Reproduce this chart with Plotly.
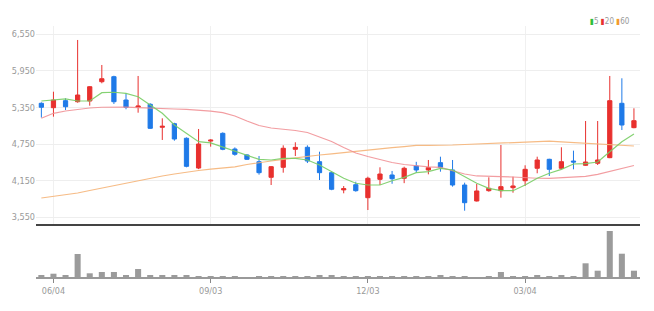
import plotly.graph_objects as go
import pandas as pd

# ---------------- data (weekly candles) ----------------
dates = pd.date_range("2022-05-28", periods=50, freq="7D")

open_ = [5419, 5347, 5462, 5445, 5457, 5773, 5855, 5473, 5354, 5403,
         5026, 5085, 4846, 4358, 4800, 4927, 4670, 4572, 4462, 4206,
         4370, 4665, 4698, 4462, 4282, 4000, 4085, 3872, 4173, 4244,
         4190, 4392, 4326, 4446, 4326, 4080, 3818, 3987, 3987, 4036,
         4150, 4354, 4501, 4354, 4473, 4403, 4436, 4528, 5419, 5020]
high = [5435, 5609, 5501, 6457, 5700, 6047, 5871, 5583, 5867, 5420,
        5173, 5100, 4860, 4998, 4829, 4943, 4697, 4585, 4555, 4390,
        4730, 4780, 4730, 4626, 4300, 4063, 4134, 4216, 4370, 4310,
        4380, 4460, 4490, 4544, 4490, 4118, 4097, 4206, 4736, 4216,
        4403, 4544, 4510, 4698, 4643, 5129, 5129, 5867, 5829, 5337]
low = [5185, 5200, 5309, 5429, 5380, 5747, 5408, 5321, 5265, 5000,
       4818, 4806, 4370, 4340, 4708, 4650, 4560, 4490, 4250, 4080,
       4282, 4555, 4440, 4162, 3995, 3944, 3970, 3670, 4080, 4100,
       4110, 4280, 4255, 4298, 4053, 3659, 3810, 3970, 3872, 3954,
       4064, 4272, 4228, 4340, 4337, 4395, 4408, 4520, 4981, 5010]
close = [5354, 5473, 5363, 5555, 5691, 5822, 5445, 5354, 5375, 5009,
         5042, 4834, 4386, 4752, 4815, 4665, 4583, 4501, 4282, 4380,
         4682, 4697, 4473, 4282, 4010, 4020, 3987, 4190, 4260, 4183,
         4354, 4326, 4364, 4370, 4080, 3790, 3982, 4026, 4053, 4064,
         4337, 4490, 4337, 4462, 4457, 4457, 4490, 5462, 5063, 5134]

ma5 = [5457, 5473, 5490, 5457, 5457, 5593, 5600, 5583, 5527, 5391,
       5255, 5063, 4927, 4790, 4770, 4700, 4640, 4572, 4501, 4490,
       4517, 4517, 4490, 4408, 4298, 4190, 4108, 4080, 4080, 4150,
       4206, 4282, 4298, 4353, 4326, 4216, 4108, 4026, 3987, 3987,
       4080, 4190, 4272, 4337, 4424, 4430, 4457, 4626, 4790, 4916]
ma20 = [5173, 5255, 5293, 5321, 5342, 5354, 5358, 5358, 5347, 5337,
        5330, 5326, 5321, 5309, 5290, 5265, 5211, 5129, 5055, 5014,
        4998, 4973, 4941, 4872, 4793, 4695, 4605, 4547, 4498, 4449,
        4416, 4391, 4378, 4368, 4309, 4260, 4228, 4216, 4216, 4211,
        4198, 4191, 4190, 4198, 4206, 4223, 4255, 4301, 4354, 4400]
ma60 = [3867, 3891, 3916, 3949, 3990, 4031, 4072, 4113, 4154, 4195,
        4227, 4260, 4293, 4318, 4339, 4359, 4378, 4416, 4449, 4473,
        4501, 4527, 4550, 4572, 4591, 4613, 4632, 4652, 4670, 4691,
        4709, 4731, 4731, 4731, 4736, 4744, 4752, 4762, 4772, 4781,
        4791, 4800, 4798, 4788, 4775, 4765, 4752, 4742, 4732, 4719]

volume = [20000, 33000, 20000, 230000, 37000, 50000, 50000, 20000, 80000, 20000,
          20000, 13000, 13000, 10000, 10000, 10000, 10000, 0, 10000, 10000,
          10000, 10000, 10000, 18000, 18000, 10000, 10000, 10000, 10000, 10000,
          10000, 10000, 10000, 18000, 10000, 10000, 0, 10000, 50000, 10000,
          10000, 15000, 10000, 15000, 10000, 137000, 63000, 460000, 233000, 63000]

price_ticks = [3550, 4150, 4750, 5350, 5950, 6550]
date_ticks = ["2022-06-04", "2022-09-03", "2022-12-03", "2023-03-04"]
date_tick_labels = ["06/04", "09/03", "12/03", "03/04"]

# ---------------- styles ----------------
RED = "#e8302e"
BLUE = "#1f7ae8"
C_MA5 = "rgba(120,205,100,0.9)"
C_MA20 = "rgba(240,140,145,0.85)"
C_MA60 = "rgba(245,180,120,0.9)"
FONT = "Liberation Sans Narrow, DejaVu Sans Condensed, Arial Narrow, sans-serif"

fig = go.Figure()

fig.add_trace(go.Candlestick(
    x=dates, open=open_, high=high, low=low, close=close,
    increasing=dict(line=dict(color=RED, width=1), fillcolor=RED),
    decreasing=dict(line=dict(color=BLUE, width=1), fillcolor=BLUE),
    whiskerwidth=0, showlegend=False, hoverinfo="skip",
    xaxis="x", yaxis="y"))

for vals, col in [(ma60, C_MA60), (ma20, C_MA20), (ma5, C_MA5)]:
    fig.add_trace(go.Scatter(x=dates, y=vals, mode="lines",
                             line=dict(color=col, width=1.2),
                             showlegend=False, hoverinfo="skip",
                             xaxis="x", yaxis="y"))

fig.add_trace(go.Bar(x=dates, y=volume, marker=dict(color="#9b9b9b", line=dict(width=0)),
                     width=3.5 * 86400000, showlegend=False, hoverinfo="skip",
                     xaxis="x2", yaxis="y2"))

xrange = ["2022-05-24 21:36", "2023-05-09 12:00"]

fig.update_layout(
    width=654, height=311,
    margin=dict(l=33, r=14, t=26, b=34),
    paper_bgcolor="white", plot_bgcolor="white",
    boxgap=0.5,
    font=dict(family=FONT, size=9, color="#999999"),
    xaxis=dict(domain=[0, 1], range=xrange, type="date",
               tickvals=date_ticks, showticklabels=False,
               showgrid=True, gridcolor="#f0f0f0", gridwidth=1,
               showline=True, linecolor="#444444", linewidth=2,
               rangeslider=dict(visible=False), anchor="y", zeroline=False),
    yaxis=dict(domain=[0.2112, 1], range=[3441, 6686],
               tickvals=price_ticks, tickformat=",d",
               showgrid=True, gridcolor="#eeeeee", gridwidth=1,
               zeroline=False, showline=False, ticks="",
               tickfont=dict(size=9, color="#999999"), anchor="x"),
    xaxis2=dict(domain=[0, 1], range=xrange, type="date", matches="x",
                tickvals=date_ticks, ticktext=date_tick_labels,
                ticks="outside", ticklen=4, tickcolor="#888888",
                showgrid=False, showline=True, linecolor="#999999", linewidth=2,
                tickfont=dict(size=9, color="#999999"), anchor="y2", zeroline=False),
    yaxis2=dict(domain=[0, 0.1952], range=[0, 490000],
                showticklabels=False, showgrid=False, zeroline=False,
                showline=False, anchor="x2"),
    annotations=[dict(
        xref="paper", yref="paper", x=1, y=1, xanchor="right", yanchor="middle",
        xshift=-8, yshift=5, showarrow=False,
        font=dict(size=8, color="#999999", family=FONT),
        text=(f'<span style="color:#2fbf3a">▮</span>5 '
              f'<span style="color:{RED}">▮</span>20 '
              f'<span style="color:#f39a2e">▮</span>60'))],
)

fig.write_html("out.html")
